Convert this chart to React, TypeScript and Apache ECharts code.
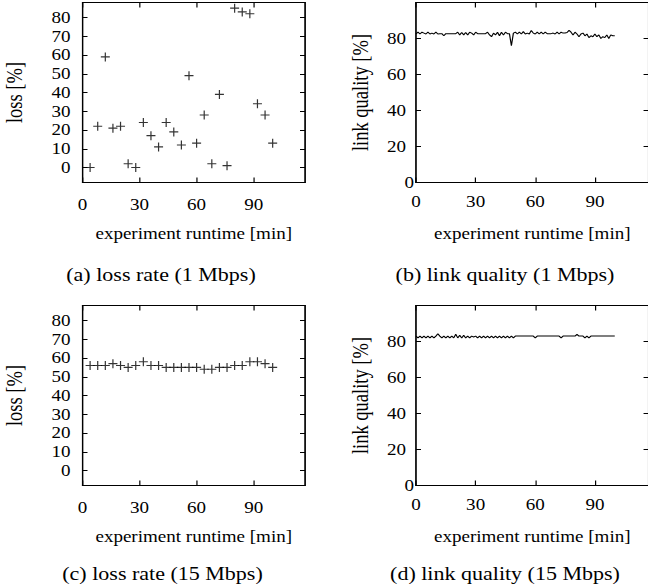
import React, { useEffect, useRef } from "react";
import * as echarts from "echarts";

// ---- data ----
const lossMinutes = [4, 8, 12, 16, 20, 24, 28, 32, 36, 40, 44, 48, 52, 56, 60, 64, 68, 72, 76, 80, 84, 88, 92, 96, 100];
const loss1Mbps = [0, 22, 59, 21, 22, 2, 0, 24, 17, 11, 24, 19, 12, 49, 13, 28, 2, 39, 1, 85, 83, 82, 34, 28, 13];
const loss15Mbps = [56, 56, 56, 57, 56, 55, 56, 58, 56, 56, 55, 55, 55, 55, 55, 54, 54, 55, 55, 56, 56, 58, 58, 57, 55];

// link quality sampled once per minute (0 .. 100 min)
const lq1Mbps = [
  82.5, 83.5, 82.5, 83.5, 83, 82.5, 83.5, 82.5, 83, 82.5,
  83.5, 82.5, 82.7, 82.7, 81.5, 82.7, 82.7, 82.7, 82.7, 82.7,
  82.7, 83.5, 82, 83.3, 82, 83.3, 82, 83.5, 83, 82,
  83.5, 82.7, 82.7, 82.7, 82.7, 82.7, 83.5, 82, 81, 83,
  82, 83.5, 81.5, 83.5, 82, 83.5, 82.7, 82.7, 76, 83,
  83.5, 82.5, 83.5, 82.5, 83.8, 82.5, 83, 82.5, 84.5, 83,
  82.5, 83.5, 82.5, 83.5, 82.5, 83.5, 82.7, 82.7, 82.7, 83,
  82.5, 83.5, 82.5, 83.5, 83, 83, 83.3, 84.5, 83.5, 82,
  83.5, 82.5, 81, 82.5, 83, 81.5, 82.5, 80.5, 81.5, 81,
  82.5, 81, 82, 80, 81, 80.5, 82, 80, 82, 81.5,
  81.5,
];
const lq15Mbps = [
  83, 82, 83, 82, 83, 82, 83, 82, 83, 82,
  83, 84.3, 83, 82, 83, 82, 83, 82, 83, 82,
  84, 82, 83.5, 82, 83.5, 82, 83, 82, 83, 82.5,
  83, 82, 83, 82, 83, 82, 83, 82, 83, 82,
  83, 82, 83, 82, 83, 82, 83, 82, 83, 82,
  83, 83, 83, 83, 83, 83, 83, 83, 83, 83,
  82, 83, 83, 83, 83, 83, 83, 83, 83, 83,
  83, 83, 83, 82, 83, 83, 83, 83, 83, 83,
  83, 84, 83, 83, 83, 82, 83, 82, 83, 83,
  83, 83, 83, 83, 83, 83, 83, 83, 83, 83,
  83,
];

const xTicks = [0, 30, 60, 90];
const lossTicks = [0, 10, 20, 30, 40, 50, 60, 70, 80];
const lqTicks = [20, 40, 60, 80];

const captions = [
  "(a) loss rate (1 Mbps)",
  "(b) link quality (1 Mbps)",
  "(c) loss rate (15 Mbps)",
  "(d) link quality (15 Mbps)",
];

const FONT = "Liberation Serif";
const TICK_FS = 16;
const NAME_FS = 16;
const YNAME_FS = 18.5;
const CAP_FS = 18.5;
// the reference's type is horizontally wide: draw narrower and stretch
const S = 1.19;
const W = 648 / S;

export default function App() {
  const ref = useRef<HTMLDivElement>(null);
  useEffect(() => {
    if (!ref.current) return;
    const chart = echarts.init(ref.current, null, { renderer: "svg" });

    const px = (v: number) => v / S;
    const grids = [
      { left: px(82.5), top: 2.5, width: px(222.5), height: 180 },
      { left: px(416), top: 2.5, width: px(235.5), height: 180 },
      { left: px(82.5), top: 305.5, width: px(222.5), height: 180 },
      { left: px(416), top: 305.5, width: px(235.5), height: 180 },
    ];

    const axisLine = { show: true, onZero: false, lineStyle: { color: "#000", width: 1 } };
    const tick = (vals: number[], len: number) => ({
      show: true,
      inside: true,
      length: len,
      customValues: vals,
      lineStyle: { color: "#000", width: 1 },
    });
    const label = (vals: number[], margin: number) => ({
      show: true,
      customValues: vals,
      margin,
      color: "#000",
      fontFamily: FONT,
      fontSize: TICK_FS,
    });

    const xAxis: any[] = [];
    const yAxis: any[] = [];
    for (let g = 0; g < 4; g++) {
      const isLoss = g === 0 || g === 2;
      xAxis.push({
        type: "value",
        gridIndex: g,
        min: 0,
        max: 117,
        position: "bottom",
        axisLine,
        axisTick: tick(xTicks, 5),
        axisLabel: label(xTicks, isLoss ? 14 : 11),
        splitLine: { show: false },
        name: "experiment runtime [min]",
        nameLocation: "middle",
        nameGap: 43,
        nameTextStyle: { color: "#000", fontFamily: FONT, fontSize: NAME_FS },
      });
      xAxis.push({
        type: "value",
        gridIndex: g,
        min: 0,
        max: 117,
        position: "top",
        axisLine,
        axisTick: tick(xTicks, 5),
        axisLabel: { show: false },
        splitLine: { show: false },
      });
      const yMin = isLoss ? -8 : 0;
      const yMax = isLoss ? 88 : 100;
      const yt = isLoss ? lossTicks : lqTicks;
      yAxis.push({
        type: "value",
        gridIndex: g,
        min: yMin,
        max: yMax,
        position: "left",
        axisLine,
        axisTick: tick(isLoss ? lossTicks : [0, ...lqTicks], px(5)),
        axisLabel: label(yt, px(isLoss ? 12 : 10)),
        splitLine: { show: false },
        name: isLoss ? "loss [%]" : "link quality [%]",
        nameLocation: "middle",
        nameGap: isLoss ? 48 : 37,
        nameTextStyle: { color: "#000", fontFamily: FONT, fontSize: YNAME_FS },
      });
      yAxis.push({
        type: "value",
        gridIndex: g,
        min: yMin,
        max: yMax,
        position: "right",
        axisLine,
        axisTick: tick(isLoss ? lossTicks : [0, ...lqTicks], px(5)),
        axisLabel: { show: false },
        splitLine: { show: false },
      });
      if (!isLoss) {
        yAxis.push({
          type: "value",
          gridIndex: g,
          min: yMin,
          max: yMax,
          position: "left",
          axisLine: { show: false },
          axisTick: { show: false },
          axisLabel: label([0], px(2)),
          splitLine: { show: false },
        });
      }
    }

    // axis index bookkeeping
    const xIdx = [0, 2, 4, 6];
    const yIdx = [0, 2, 5, 7];

    const plus = "path://M5,0L5,10M0,5L10,5";
    const scatter = (g: number, vals: number[]) => ({
      type: "scatter",
      xAxisIndex: xIdx[g],
      yAxisIndex: yIdx[g],
      data: lossMinutes.map((m, i) => [m, vals[i]]),
      symbol: plus,
      symbolSize: [px(9), 9],
      itemStyle: { color: "rgba(0,0,0,0)", borderColor: "#000", borderWidth: 1.1 },
      silent: true,
    });
    const line = (g: number, vals: number[]) => ({
      type: "line",
      xAxisIndex: xIdx[g],
      yAxisIndex: yIdx[g],
      data: vals.map((v, i) => [i, v]),
      showSymbol: false,
      lineStyle: { color: "#000", width: 1 },
      silent: true,
    });

    const capPos = [
      [161, 265],
      [505, 265],
      [162.5, 564],
      [505, 564],
    ];

    chart.setOption({
      animation: false,
      backgroundColor: "#fff",
      grid: grids.map((g) => ({ ...g, show: true, borderColor: "#000", borderWidth: 1, backgroundColor: "transparent" })),
      xAxis,
      yAxis,
      series: [scatter(0, loss1Mbps), line(1, lq1Mbps), scatter(2, loss15Mbps), line(3, lq15Mbps)],
      graphic: captions.map((c, i) => ({
        type: "text",
        x: px(capPos[i][0]),
        y: capPos[i][1],
        style: {
          text: c,
          fill: "#000",
          font: `${CAP_FS}px "${FONT}"`,
          textAlign: "center",
          textVerticalAlign: "top",
        },
      })),
    });
    return () => chart.dispose();
  }, []);
  return (
    <div style={{ position: "absolute", left: 0, top: 0, width: 648, height: 587, overflow: "hidden", background: "#fff" }}>
      <div
        ref={ref}
        style={{ width: W, height: 587, transform: `scaleX(${S})`, transformOrigin: "0 0" }}
      />
    </div>
  );
}
